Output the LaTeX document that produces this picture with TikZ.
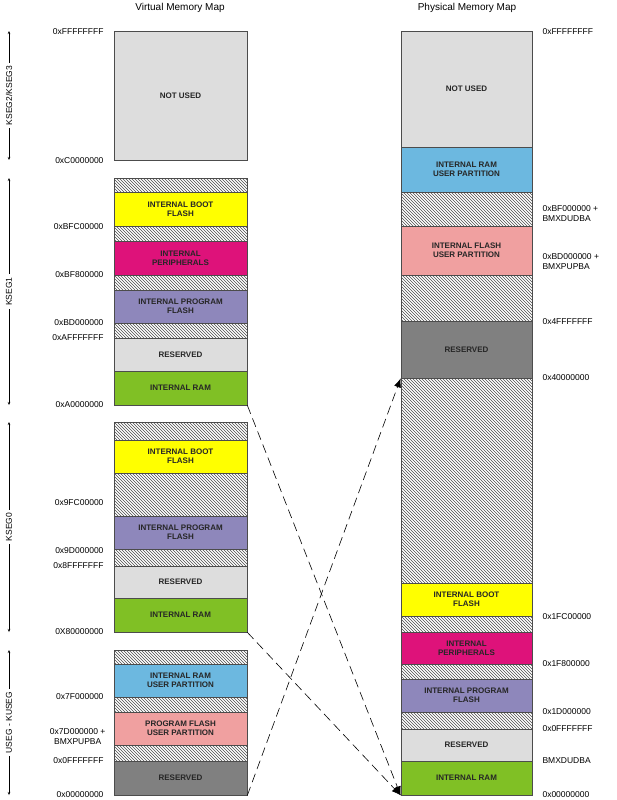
\documentclass[tikz,border=0pt]{standalone}
\usepackage{fontspec}
\setmainfont{Liberation Sans}
\usetikzlibrary{patterns,arrows.meta}
\definecolor{cyel}{HTML}{FFFF00}
\definecolor{cmag}{HTML}{DE127A}
\definecolor{cpur}{HTML}{8E87BB}
\definecolor{clgr}{HTML}{DDDDDD}
\definecolor{cgrn}{HTML}{80C025}
\definecolor{cblu}{HTML}{6CB8E0}
\definecolor{cpnk}{HTML}{F0A0A0}
\definecolor{cdgr}{HTML}{808080}
\tikzset{
  blk/.style={draw=black!70, line width=0.7pt, font=\fontsize{8}{9}\selectfont\bfseries, text=black!85, align=center},
  hatch/.style={draw=black!70, line width=0.7pt, pattern=north west lines, pattern color=black!70},
  addr/.style={font=\fontsize{8.5}{10}\selectfont, align=left},
  seg/.style={{Stealth[length=3pt,width=2.5pt]}-{Stealth[length=3pt,width=2.5pt]}, line width=0.5pt},
  map/.style={dash pattern=on 9pt off 5pt, line width=0.6pt, -{Latex[length=9pt,width=7pt]}}
}
\begin{document}
\begin{tikzpicture}[x=1pt, y=-1pt]
\useasboundingbox (0,0) rectangle (617,800);

% titles
\node[font=\fontsize{10}{12}\selectfont] (vtitle) at (180,8) {Virtual Memory Map};
\node[font=\fontsize{10}{12}\selectfont] (ptitle) at (467,8) {Physical Memory Map};

% virtual memory map
\foreach \y/\h in {178/192, 226/241, 275/290, 323/338, 422/440, 473/516, 549/566, 650/664, 697/712, 745/761}
  \fill[white] (114,\y) rectangle (247,\h) \pgfextra{} ;
\foreach \y/\h in {178/192, 226/241, 275/290, 323/338, 422/440, 473/516, 549/566, 650/664, 697/712, 745/761}
  \draw[hatch] (114,\y) rectangle (247,\h);
\foreach \n/\y/\h/\c/\t in {
  vnu/31/160/clgr/{NOT USED},
  vb1/192/226/cyel/{INTERNAL BOOT\\FLASH},
  vp1/241/275/cmag/{INTERNAL\\PERIPHERALS},
  vf1/290/323/cpur/{INTERNAL PROGRAM\\FLASH},
  vr1/338/371/clgr/{RESERVED},
  vm1/371/405/cgrn/{INTERNAL RAM},
  vb0/440/473/cyel/{INTERNAL BOOT\\FLASH},
  vf0/516/549/cpur/{INTERNAL PROGRAM\\FLASH},
  vr0/566/598/clgr/{RESERVED},
  vm0/598/632/cgrn/{INTERNAL RAM},
  vmu/664/697/cblu/{INTERNAL RAM\\USER PARTITION},
  vfu/712/745/cpnk/{PROGRAM FLASH\\USER PARTITION},
  vru/761/795/cdgr/{RESERVED}}
  \node[blk, fill=\c, minimum width=133pt, minimum height=\h-\y, inner sep=0pt] (\n) at (180.5,{(\y+\h)/2}) {\t};

% physical memory map
\foreach \y/\h in {192/226, 275/321, 378/583, 616/632, 664/679, 712/729}
  \draw[hatch] (401,\y) rectangle (532,\h);
\foreach \n/\y/\h/\c/\t in {
  pnu/31/147/clgr/{NOT USED},
  pmu/147/192/cblu/{INTERNAL RAM\\USER PARTITION},
  pfu/226/275/cpnk/{INTERNAL FLASH\\USER PARTITION},
  pru/321/378/cdgr/{RESERVED},
  pb/583/616/cyel/{INTERNAL BOOT\\FLASH},
  pp/632/664/cmag/{INTERNAL\\PERIPHERALS},
  pf/679/712/cpur/{INTERNAL PROGRAM\\FLASH},
  pr/729/761/clgr/{RESERVED},
  pm/761/795/cgrn/{INTERNAL RAM}}
  \node[blk, fill=\c, minimum width=131pt, minimum height=\h-\y, inner sep=0pt] (\n) at (466.5,{(\y+\h)/2}) {\t};

% virtual addresses
\foreach \y/\t in {32/0xFFFFFFFF, 161/0xC0000000, 227/0xBFC00000, 275/0xBF800000, 323/0xBD000000,
  338/0xAFFFFFFF, 405/0xA0000000, 503/0x9FC00000, 551/0x9D000000, 566/0x8FFFFFFF, 632/0X80000000,
  697/0x7F000000, 761/0x0FFFFFFF, 795/0x00000000}
  \node[addr, anchor=east] at (107,\y) {\t};
\node[addr, align=center, anchor=east] (vpupba) at (109,737) {0x7D000000 +\\BMXPUPBA};

% physical addresses
\foreach \y/\t in {32/0xFFFFFFFF, 322/0x4FFFFFFF, 378/0x40000000, 617/0x1FC00000, 664/0x1F800000,
  712/0x1D000000, 729/0x0FFFFFFF, 761/BMXDUDBA, 795/0x00000000}
  \node[addr, anchor=west] at (539,\y) {\t};
\node[addr, anchor=west] (pdudba) at (539,214) {0xBF000000 +\\BMXDUDBA};
\node[addr, anchor=west] (ppupba) at (539,262) {0xBD000000 +\\BMXPUPBA};

% segments
\foreach \a/\b/\t in {31/160/{KSEG2/KSEG3}, 178/405/KSEG1, 422/632/KSEG0, 650/795/{USEG - KUSEG}}
  \draw[seg] (9,\a) -- node[rotate=90, fill=white, font=\fontsize{8.5}{10}\selectfont, inner sep=3pt] {\t} (9,\b);

% mappings
\draw[map] (vm1.south east) -- (pm.south west);
\draw[map] (vm0.south east) -- (pm.south west);
\draw[map] (vru.south east) -- (pru.south west);
\end{tikzpicture}
\end{document}
